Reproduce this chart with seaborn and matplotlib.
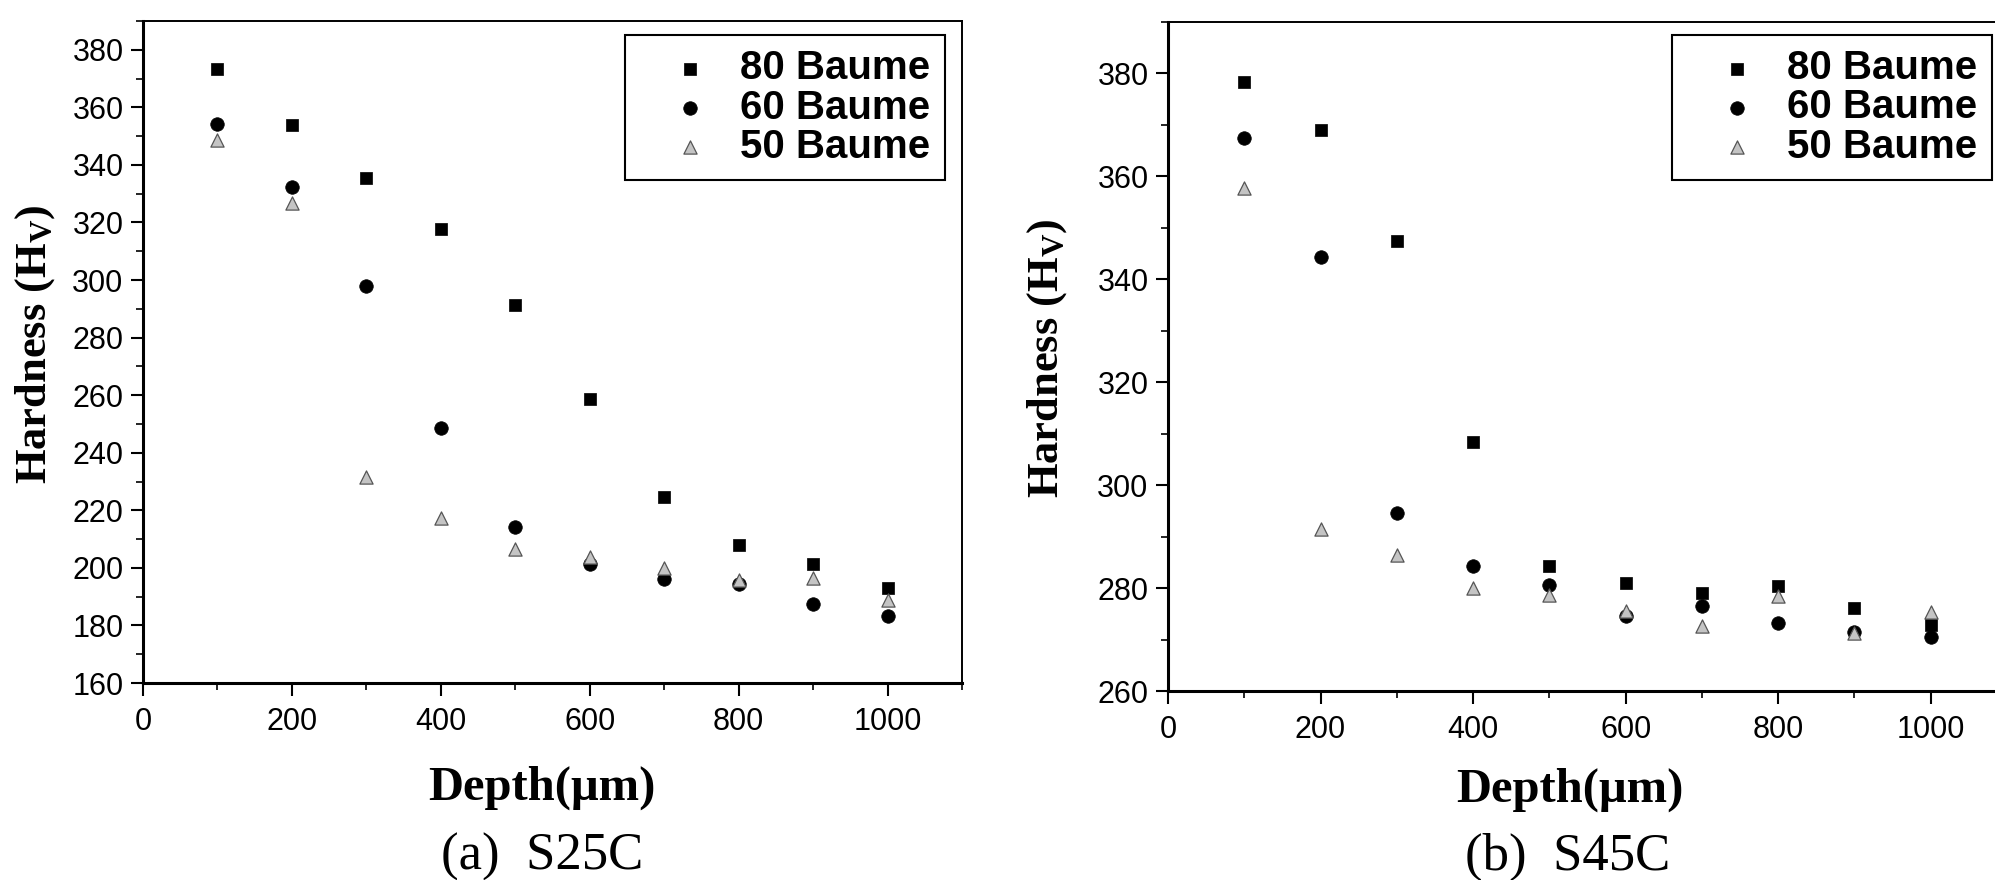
import matplotlib
matplotlib.use('Agg')
import matplotlib.pyplot as plt
import seaborn as sns
from matplotlib.ticker import MultipleLocator
from matplotlib.font_manager import FontProperties

# ---- data ----
depth = [100, 200, 300, 400, 500, 600, 700, 800, 900, 1000]

s25c_80 = [373.3, 354.0, 335.5, 317.7, 291.3, 258.7, 224.6, 208.0, 201.3, 193.0]
s25c_60 = [354.2, 332.3, 298.0, 248.6, 214.2, 201.3, 196.0, 194.4, 187.4, 183.3]
s25c_50 = [348.7, 326.8, 231.6, 217.3, 206.5, 203.8, 200.0, 195.8, 196.5, 188.8]

s45c_80 = [378.4, 369.0, 347.5, 308.3, 284.2, 280.9, 279.0, 280.5, 276.2, 272.8]
s45c_60 = [367.5, 344.3, 294.6, 284.2, 280.6, 274.6, 276.5, 273.3, 271.5, 270.4]
s45c_50 = [357.7, 291.4, 286.4, 280.1, 278.6, 275.6, 272.7, 278.4, 271.3, 275.4]

labels = ['80 Baume', '60 Baume', '50 Baume']
captions = ['(a)  S25C', '(b)  S45C']

# marker style per series: marker, size, face, edge, edge width
estilos = {
    '80 Baume': ('s', 75, 'black', 'black', 0.5),
    '60 Baume': ('o', 95, 'black', 'black', 0.5),
    '50 Baume': ('^', 90, '#c4c4c4', '#555555', 0.9),
}

sns.set_style("white")
plt.rcParams['font.family'] = ['Liberation Sans', 'DejaVu Sans']
plt.rcParams['text.color'] = 'black'
plt.rcParams['axes.labelcolor'] = 'black'
plt.rcParams['mathtext.fontset'] = 'custom'
plt.rcParams['mathtext.rm'] = 'Liberation Serif:bold'
plt.rcParams['mathtext.bf'] = 'Liberation Serif:bold'
plt.rcParams['mathtext.it'] = 'Liberation Serif:bold'

fig = plt.figure(figsize=(19.95, 8.8), dpi=100)
ax1 = fig.add_axes([0.07168, 0.22386, 0.41053, 0.75227])
ax2 = fig.add_axes([0.58546, 0.21477, 0.42055, 0.76023])

paneles = [
    (ax1, [s25c_80, s25c_60, s25c_50], (160, 390), 0.487, -0.159, -0.132, 0.512, (0.979, 0.979)),
    (ax2, [s45c_80, s45c_60, s45c_50], (260, 390), 0.479, -0.148, -0.144, 0.497, (0.982, 0.981)),
]

leg_font = FontProperties(family='Liberation Sans', weight='bold', size=29)

for ax, series, ylim, xlx, xly, ylx, yly, anchor in paneles:
    for name, vals in zip(labels, series):
        m, s, fc, ec, lw = estilos[name]
        sns.scatterplot(x=depth, y=vals, marker=m, s=s, color=fc, edgecolor=ec,
                        linewidth=lw, label=name, ax=ax, zorder=3)

    ax.set_xlim(0, 1100)
    ax.set_ylim(*ylim)
    ax.xaxis.set_major_locator(MultipleLocator(200))
    ax.xaxis.set_minor_locator(MultipleLocator(100))
    ax.yaxis.set_major_locator(MultipleLocator(20))
    ax.yaxis.set_minor_locator(MultipleLocator(10))
    ax.set_xticks([0, 200, 400, 600, 800, 1000])

    ax.tick_params(axis='both', which='major', direction='out', length=9, width=1.5,
                   labelsize=22, colors='black', labelcolor='black',
                   bottom=True, left=True, top=False, right=False)
    ax.tick_params(axis='both', which='minor', direction='out', length=5, width=1.2,
                   colors='black', bottom=True, left=True, top=False, right=False)
    ax.tick_params(axis='x', which='major', pad=8)
    ax.tick_params(axis='y', which='major', pad=5)

    for side in ['left', 'bottom']:
        ax.spines[side].set_linewidth(2.2)
        ax.spines[side].set_color('black')
    for side in ['top', 'right']:
        ax.spines[side].set_linewidth(1.4)
        ax.spines[side].set_color('black')

    ax.set_xlabel('Depth(μm)', fontsize=35, fontweight='bold', family='Liberation Serif',
                  va='center', color='black')
    ax.xaxis.set_label_coords(xlx, xly)
    ax.set_ylabel(r'Hardness (H$_\mathrm{V}$)', fontsize=32, fontweight='bold',
                  family='Liberation Serif', va='center', color='black')
    ax.yaxis.set_label_coords(ylx, yly)

    leg = ax.legend(loc='upper right', bbox_to_anchor=anchor, borderaxespad=0,
                    frameon=True, fancybox=False, edgecolor='black', framealpha=1,
                    prop=leg_font, handlelength=2.5, handletextpad=0.0,
                    borderpad=0.36, labelspacing=0.03)
    leg.get_frame().set_linewidth(1.5)
    for t in leg.get_texts():
        t.set_color('black')

fig.text(542 / 1995, 1 - 857 / 880, captions[0], fontsize=38, family='Liberation Serif',
         ha='center', va='center', color='black')
fig.text(1568 / 1995, 1 - 857 / 880, captions[1], fontsize=38, family='Liberation Serif',
         ha='center', va='center', color='black')

fig.savefig('out.png', dpi=100)
